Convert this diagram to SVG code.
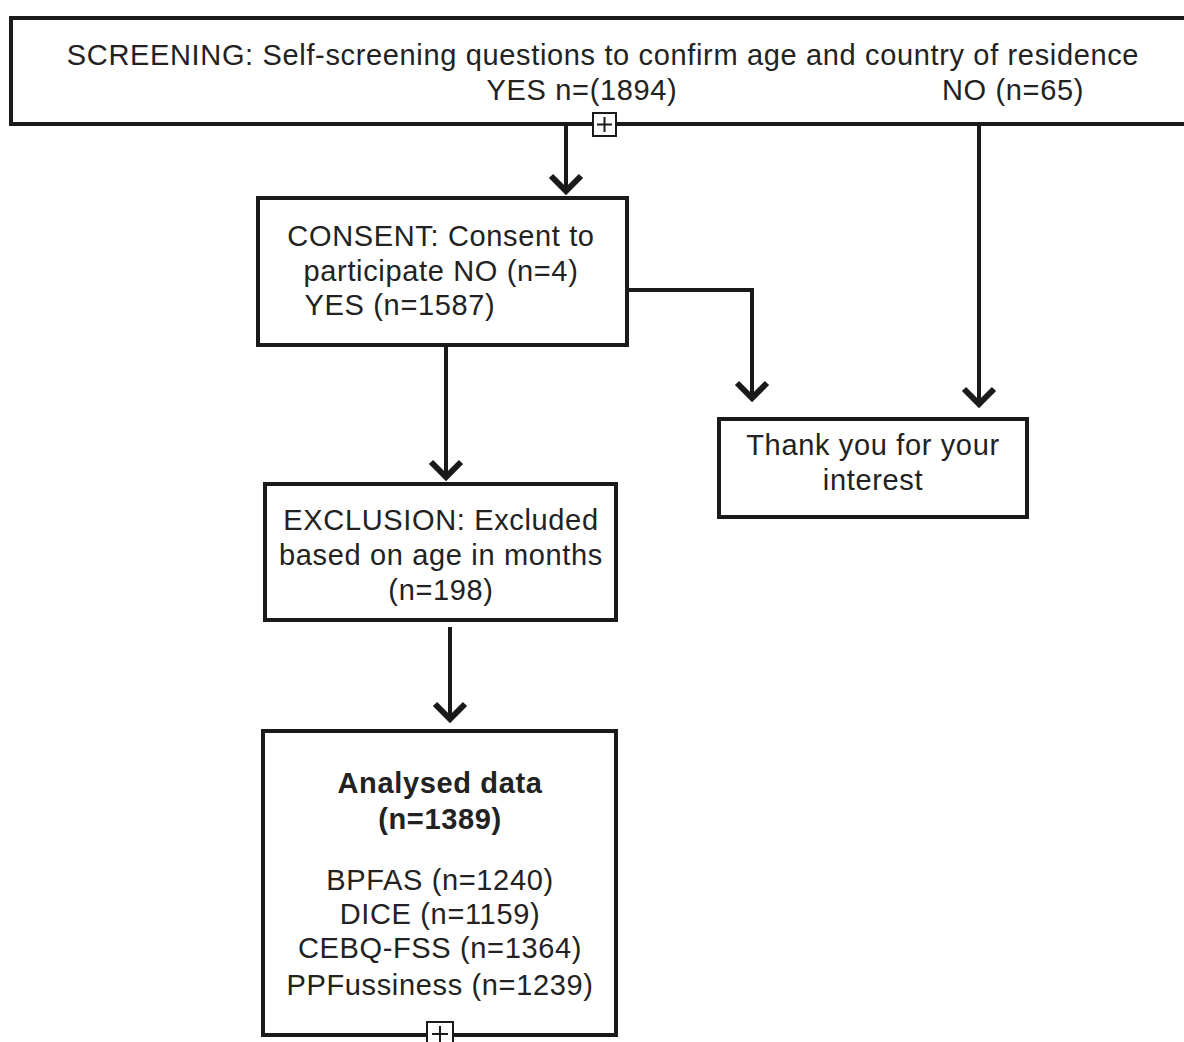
<svg xmlns="http://www.w3.org/2000/svg" width="1184" height="1042" viewBox="0 0 1184 1042">
<style>
.box{fill:#fff;stroke:#1a1a1a;stroke-width:4}
.t{font-family:"Liberation Sans",Arial,sans-serif;font-size:29px;letter-spacing:0.65px;fill:#222;text-anchor:middle}
.b{font-weight:bold}
.c{fill:none;stroke:#1a1a1a;stroke-width:4}
.pl{fill:#fff;stroke:#1a1a1a;stroke-width:2}
</style>
<defs>
<marker id="ah" markerUnits="userSpaceOnUse" markerWidth="40" markerHeight="40" refX="34" refY="20" orient="auto" viewBox="0 0 40 40">
<polyline points="19,5 34,20 19,35" fill="none" stroke="#1a1a1a" stroke-width="6"/>
</marker>
</defs>
<rect width="1184" height="1042" fill="#fff"/>
<g id="connectors">
<path class="c" d="M566,124 V191" marker-end="url(#ah)"/>
<path class="c" d="M979,124 V404" marker-end="url(#ah)"/>
<path class="c" d="M627,290 H752 V398" marker-end="url(#ah)"/>
<path class="c" d="M446,345 V477" marker-end="url(#ah)"/>
<path class="c" d="M450,627 V719" marker-end="url(#ah)"/>
</g>
<g id="screening">
<rect class="box" x="11" y="18" width="1190" height="106"/>
<text class="t" x="603" y="65">SCREENING: Self-screening questions to confirm age and country of residence</text>
<text class="t" x="582" y="100">YES n=(1894)</text>
<text class="t" x="1013" y="100">NO (n=65)</text>
<rect class="pl" x="593" y="113" width="23" height="23"/>
<path d="M597,124.5 H612 M604.5,117 V132" stroke="#1a1a1a" stroke-width="2"/>
</g>
<g id="consent">
<rect class="box" x="258" y="198" width="369" height="147"/>
<text class="t" x="441" y="246">CONSENT: Consent to</text>
<text class="t" x="441" y="281">participate NO (n=4)</text>
<text class="t" x="400" y="315">YES (n=1587)</text>
</g>
<g id="thankyou">
<rect class="box" x="719" y="419" width="308" height="98"/>
<text class="t" x="873" y="455">Thank you for your</text>
<text class="t" x="873" y="490">interest</text>
</g>
<g id="exclusion">
<rect class="box" x="265" y="484" width="351" height="136"/>
<text class="t" x="441" y="530">EXCLUSION: Excluded</text>
<text class="t" x="441" y="565">based on age in months</text>
<text class="t" x="441" y="600">(n=198)</text>
</g>
<g id="analysed">
<rect class="box" x="263" y="731" width="353" height="304"/>
<text class="t b" x="440" y="793">Analysed data</text>
<text class="t b" x="440" y="829">(n=1389)</text>
<text class="t" x="440" y="890">BPFAS (n=1240)</text>
<text class="t" x="440" y="924">DICE (n=1159)</text>
<text class="t" x="440" y="958">CEBQ-FSS (n=1364)</text>
<text class="t" x="440" y="995">PPFussiness (n=1239)</text>
<rect class="pl" x="427" y="1022" width="26" height="24"/>
<path d="M432,1034 H448 M440,1026 V1042" stroke="#1a1a1a" stroke-width="2"/>
</g>
</svg>
